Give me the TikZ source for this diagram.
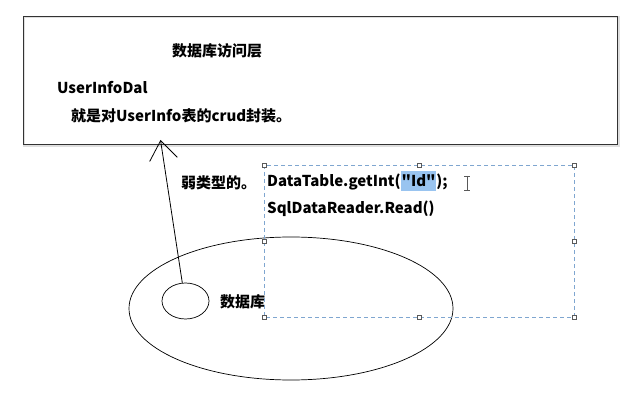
\documentclass[tikz,border=0pt]{standalone}
\usepackage{fontspec}
\setmainfont{Noto Sans CJK SC}[Ligatures=TeXOff]
\usetikzlibrary{arrows.meta,shapes.geometric}
\definecolor{boxline}{HTML}{333333}
\definecolor{selblue}{HTML}{7FA6D0}
\definecolor{hlblue}{HTML}{99C4F0}
\tikzset{
  lbl/.style={inner sep=0pt, font=\fontsize{15}{17}\selectfont\bfseries, anchor=west},
  handle/.style={draw=gray!70!black, fill=white, line width=0.5pt, minimum size=4pt, inner sep=0pt, rectangle},
  sel/.style={draw=selblue, dash pattern=on 4pt off 3pt, line width=0.8pt},
  oval/.style={draw=black, ellipse, line width=0.7pt, inner sep=0pt},
}
\begin{document}
\begin{tikzpicture}[x=1pt,y=-1pt]
\useasboundingbox (0,0) rectangle (639,403);
% top box with faint shadow
\draw[gray!25, line width=1.5pt] (24,17) rectangle (619,146);
\node[draw=boxline, line width=1.3pt, minimum width=594pt, minimum height=128pt, anchor=north west, inner sep=0pt] (top) at (23,16) {};
\node[lbl, anchor=center] (title) at (217,51) {数据库访问层};
\node[lbl] (dal) at (57,88) {UserInfoDal};
\node[lbl] (desc) at (71,116) {就是对UserInfo表的crud封装。};
% big ellipse and small ellipse
\node[oval, minimum width=324pt, minimum height=143pt] (db) at (291,308.5) {};
\node[oval, minimum width=47pt, minimum height=36pt] (small) at (185.5,301) {};
\node[lbl] (dbl) at (220,302) {数据库};
% arrow
\coordinate (tip) at (160.5,140);
\draw[line width=0.8pt, -{Straight Barb[length=19pt,width=28pt,line width=0.8pt]}] (small.100) -- (tip);
\node[lbl] (weak) at (181,183) {弱类型的。};
% selection box
\draw[sel] (264,165) rectangle (574,317);
\foreach \p in {(264,165),(419,165),(574,165),(264,241),(574,241),(264,317),(419,317),(574,317)}
  \node[handle] at \p {};
\node[lbl] (c1a) at (267,182) {DataTable.getInt(};
\node[lbl, anchor=base west, fill=hlblue, inner xsep=0.5pt, inner ysep=4pt] (c1b) at (c1a.base east) {"Id"};
\node[lbl, anchor=base west] (c1c) at (c1b.base east) {);};
\node[lbl] (c2) at (267,209) {SqlDataReader.Read()};
% text cursor
\draw[gray!70!black, line width=0.8pt] (467,176) -- (467,190) (464,176) -- (470,176) (464,190) -- (470,190);
\end{tikzpicture}
\end{document}
